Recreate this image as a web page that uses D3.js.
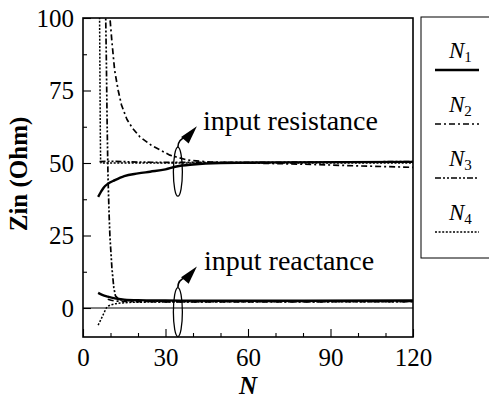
<!DOCTYPE html>
<html>
<head>
<meta charset="utf-8">
<script src="https://cdn.jsdelivr.net/npm/d3@7"></script>
<style>
  body { margin: 0; background: #fff; }
  svg { display: block; }
</style>
</head>
<body>
<svg id="chart" width="489" height="399"></svg>
<script>
// Input impedance Zin versus number of elements N, for four sizes N1..N4.
const seriesNames = ["N1", "N2", "N3", "N4"];

// N1 (solid)
const n1ResN   = [5.5, 6.5, 7.5, 9, 11.6, 15, 20, 24.4, 30, 34, 40, 50, 70, 120];
const n1Res    = [38.3, 40, 41.5, 42.8, 44.1, 45.5, 46.4, 47, 47.8, 48.8, 49.5, 50, 50.2, 50.4];
const n1ReactN = [5.5, 7, 9, 11.6, 15, 20, 30, 50, 120];
const n1React  = [5.2, 4.5, 3.9, 3.3, 2.9, 2.7, 2.6, 2.5, 2.6];

// N2 (dash-dot)
const n2ResN   = [9.6, 9.8, 10.5, 11.5, 12.8, 14, 16, 18, 20.7, 25, 31.6, 38, 45, 60, 80, 100, 120];
const n2Res    = [104, 100, 92, 82, 75, 70, 65, 62, 59, 56, 52.7, 51, 50.4, 50, 49.6, 49, 48.5];
const n2ReactN = [9, 12, 20, 40, 120];
const n2React  = [3, 2.4, 2.2, 2.1, 2.2];

// N3 (dash-dot-dot)
const n3ResN   = [6, 10, 20, 40, 120];
const n3Res    = [50.5, 50.6, 50.3, 50.2, 50.5];
const n3ReactN = [8.2, 8.5, 8.8, 9.1, 9.5, 9.8, 10.5, 11.2, 11.8, 13, 16, 30, 120];
const n3React  = [104, 85, 62, 45, 32, 24.5, 14, 7, 4.2, 3, 2.5, 2.3, 2.3];

// N4 (dotted)
const n4ResN   = [6.0, 6.1, 6.2, 6.3, 6.4, 6.6, 10, 30, 120];
const n4Res    = [104, 90, 75, 60, 51, 50, 50, 50, 50];
const n4ReactN = [5.5, 6.5, 7.5, 8.7, 10, 12, 15, 20, 40, 120];
const n4React  = [-5.9, -4, -2, 0.3, 1, 1.5, 1.8, 2, 2.1, 2.2];

const xMajorTicks = [0, 30, 60, 90, 120];
const xMinorTicks = [10, 20, 40, 50, 70, 80, 100, 110];
const yMajorTicks = [0, 25, 50, 75, 100];
const yMinorTicks = [12.5, 37.5, 62.5, 87.5];

const SERIF = '"Liberation Serif", "Times New Roman", serif';

const styles = {
  N1: { width: 2.4, dash: null },
  N2: { width: 1.7, dash: "6,3,2,3" },
  N3: { width: 1.7, dash: "6,2,2,2,2,2" },
  N4: { width: 1.5, dash: "2,1.6" }
};

const zipPts = (xs, ys) => xs.map((n, i) => ({ n, v: ys[i] }));
const curves = [
  { key: "N1", pts: zipPts(n1ResN, n1Res) },
  { key: "N1", pts: zipPts(n1ReactN, n1React) },
  { key: "N2", pts: zipPts(n2ResN, n2Res) },
  { key: "N2", pts: zipPts(n2ReactN, n2React) },
  { key: "N3", pts: zipPts(n3ResN, n3Res) },
  { key: "N3", pts: zipPts(n3ReactN, n3React) },
  { key: "N4", pts: zipPts(n4ResN, n4Res) },
  { key: "N4", pts: zipPts(n4ReactN, n4React) }
];

const svg = d3.select("#chart");
svg.append("rect").attr("width", 489).attr("height", 399).attr("fill", "#fff");

const x = d3.scaleLinear().domain([0, 120]).range([83, 413]);
const y = d3.scaleLinear().domain([-10, 100]).range([337, 18]);

svg.append("defs").append("clipPath").attr("id", "plotClip")
  .append("rect")
  .attr("x", x(0)).attr("y", y(100))
  .attr("width", x(120) - x(0)).attr("height", y(-10) - y(100));

// zero reference line
svg.append("line")
  .attr("x1", x(0)).attr("x2", x(120))
  .attr("y1", y(0)).attr("y2", y(0))
  .attr("stroke", "#000").attr("stroke-width", 1.1);

// curves
const line = d3.line().x(d => x(d.n)).y(d => y(d.v)).curve(d3.curveMonotoneX);
const lineSteep = d3.line().x(d => x(d.n)).y(d => y(d.v)).curve(d3.curveLinear);
svg.append("g").attr("clip-path", "url(#plotClip)")
  .selectAll("path").data(curves).join("path")
  .attr("d", d => (d.pts[1].n - d.pts[0].n < 0.5 ? lineSteep : line)(d.pts))
  .attr("fill", "none")
  .attr("stroke", "#000")
  .attr("stroke-width", d => styles[d.key].width)
  .attr("stroke-dasharray", d => styles[d.key].dash)
  .attr("stroke-linejoin", "round");

// axes with inward ticks
const fontAxis = 25;
const gx = svg.append("g").attr("transform", `translate(0,${y(-10)})`)
  .call(d3.axisBottom(x).tickValues(xMajorTicks).tickSize(-8).tickPadding(11).tickFormat(d3.format("d")));
const gxm = svg.append("g").attr("transform", `translate(0,${y(-10)})`)
  .call(d3.axisBottom(x).tickValues(xMinorTicks).tickSize(-4).tickFormat(""));
const gy = svg.append("g").attr("transform", `translate(${x(0)},0)`)
  .call(d3.axisLeft(y).tickValues(yMajorTicks).tickSize(-8).tickPadding(9).tickFormat(d3.format("d")));
const gym = svg.append("g").attr("transform", `translate(${x(0)},0)`)
  .call(d3.axisLeft(y).tickValues(yMinorTicks).tickSize(-4).tickFormat(""));
[gx, gxm, gy, gym].forEach(g => {
  g.attr("font-family", null).attr("font-size", null);
  g.select(".domain").remove();
  g.selectAll("line").attr("stroke", "#000").attr("stroke-width", 1.1);
  g.selectAll("text").style("font-size", fontAxis + "px")
    .style("font-family", SERIF).attr("fill", "#000");
});

// plot frame
svg.append("rect")
  .attr("x", x(0)).attr("y", y(100))
  .attr("width", x(120) - x(0)).attr("height", y(-10) - y(100))
  .attr("fill", "none").attr("stroke", "#000").attr("stroke-width", 1.6);

// axis titles
svg.append("text")
  .attr("x", (x(0) + x(120)) / 2).attr("y", 394)
  .attr("text-anchor", "middle")
  .style("font-family", SERIF).style("font-size", "25px")
  .style("font-weight", "bold").style("font-style", "italic").text("N");
svg.append("text")
  .attr("transform", `translate(27,174) rotate(-90)`)
  .attr("text-anchor", "middle")
  .style("font-family", SERIF).style("font-size", "25px")
  .style("font-weight", "bold").text("Zin (Ohm)");

// annotations: ellipse around the curve bundle with an arrow to the label
const notes = [
  { label: "input resistance", n: 34.5, v: 47.0, tx: 203, ty: 130 },
  { label: "input reactance",  n: 34.5, v: -1.4, tx: 204, ty: 270 }
];
const ann = svg.append("g");
notes.forEach(a => {
  const cx = x(a.n), cy = y(a.v), ry = 24.5, rx = 4.5;
  ann.append("ellipse").attr("cx", cx).attr("cy", cy).attr("rx", rx).attr("ry", ry)
    .attr("fill", "none").attr("stroke", "#000").attr("stroke-width", 1.3);
  const sx = cx, sy = cy - ry;
  const tipX = sx + 19, tipY = sy - 21;
  ann.append("path")
    .attr("d", `M${sx},${sy} Q${sx},${sy - 8} ${sx + 8},${sy - 10}`)
    .attr("fill", "none").attr("stroke", "#000").attr("stroke-width", 1.6);
  const bx = sx + 7, by = sy - 7;
  const ang = Math.atan2(tipY - by, tipX - bx);
  const perp = ang + Math.PI / 2, hw = 5;
  ann.append("path")
    .attr("d", `M${tipX},${tipY} L${bx + hw * Math.cos(perp)},${by + hw * Math.sin(perp)} L${bx - hw * Math.cos(perp)},${by - hw * Math.sin(perp)} Z`)
    .attr("fill", "#000");
  ann.append("text").attr("x", a.tx).attr("y", a.ty)
    .style("font-family", SERIF).style("font-size", "28px").text(a.label);
});

// legend
const leg = svg.append("g");
leg.append("rect").attr("x", 421).attr("y", 17).attr("width", 75).attr("height", 241)
  .attr("fill", "#fff").attr("stroke", "#000").attr("stroke-width", 1);
seriesNames.forEach((k, i) => {
  const ly = 70 + i * 54;
  const t = leg.append("text").attr("x", 449).attr("y", ly - 12)
    .style("font-family", SERIF).style("font-size", "23px").style("font-style", "italic");
  t.append("tspan").text("N");
  t.append("tspan").style("font-size", "15px").style("font-style", "normal").attr("dy", 4).text(String(i + 1));
  leg.append("line").attr("x1", 435).attr("x2", 479).attr("y1", ly).attr("y2", ly)
    .attr("stroke", "#000")
    .attr("stroke-width", k === "N1" ? 2.6 : 1.5)
    .attr("stroke-dasharray", k === "N1" ? null : styles[k].dash);
});
</script>
</body>
</html>
